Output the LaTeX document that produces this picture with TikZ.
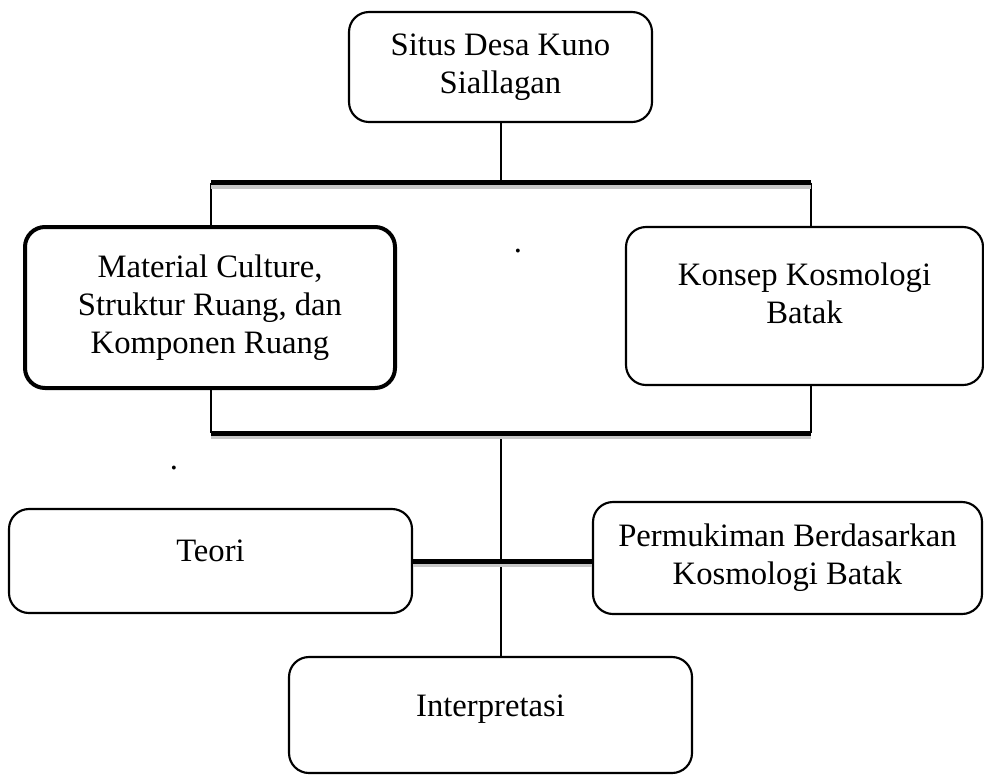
\documentclass[tikz,border=0pt]{standalone}
\usepackage{fontspec}
\setmainfont{Liberation Serif}

\begin{document}
\begin{tikzpicture}[
  x = 0.75pt, y = -0.75pt,
  every node/.style = {font = \fontsize{24.5}{28.5}\selectfont, align = center},
  box/.style = {draw, rounded corners = 15pt, line width = 1.6pt, inner sep = 0pt},
  heavybox/.style = {box, line width = 3pt},
  link/.style = {line width = 1.5pt},
  bus/.style = {line width = 3.75pt,
                preaction = {draw = black!22, line width = 3pt, transform canvas = {yshift = -3pt}}},
  ]
  \useasboundingbox (0,0) rectangle (984,775);

  \node[box, minimum width = 227.25pt, minimum height = 82.5pt] (situs) at (500.5,67)
        {Situs Desa Kuno\\Siallagan};
  \node[heavybox, minimum width = 277.5pt, minimum height = 120.75pt] (material) at (210,307.5)
        {Material Culture,\\Struktur Ruang, dan\\Komponen Ruang};
  \node[box, minimum width = 267.75pt, minimum height = 118.5pt, text depth = 20pt] (konsep) at (804.5,306)
        {Konsep Kosmologi\\Batak};
  \node[box, minimum width = 302.25pt, minimum height = 78pt, text depth = 16pt] (teori) at (210.5,561)
        {Teori};
  \node[box, minimum width = 291.75pt, minimum height = 84pt] (permukiman) at (787.5,558)
        {Permukiman Berdasarkan\\Kosmologi Batak};
  \node[box, minimum width = 302.25pt, minimum height = 87pt, text depth = 13.5pt] (interpretasi) at (490.5,715)
        {Interpretasi};

  \node[anchor = base] (dotA) at (518,252) {.};
  \node[anchor = base] (dotB) at (174,469) {.};

  \coordinate (upL) at (211,182.5);
  \coordinate (upR) at (811,182.5);
  \coordinate (lowL) at (211,433);
  \coordinate (lowR) at (811,433);

  \draw[link] (situs.south) -- (situs.south |- upL);
  \draw[link] (upL) -- (upL |- material.north);
  \draw[link] (upR) -- (upR |- konsep.north);
  \draw[link] (lowL |- material.south) -- (lowL);
  \draw[link] (lowR |- konsep.south) -- (lowR);
  \draw[link] (situs.south |- lowL) -- (situs.south |- interpretasi.north);
  \draw[bus] (upL) -- (upR);
  \draw[bus] (lowL) -- (lowR);
  \draw[bus] (teori.east) -- (teori.east -| permukiman.west);
\end{tikzpicture}
\end{document}
